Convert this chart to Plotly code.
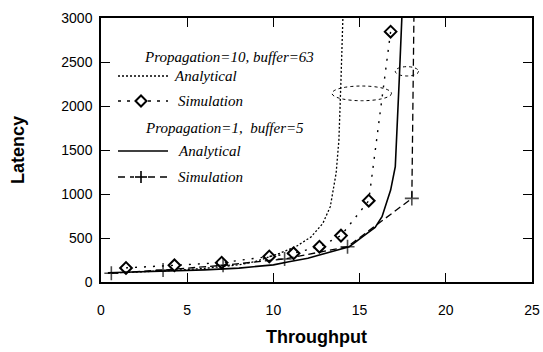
import plotly.graph_objects as go

# ---------------- data ----------------
# Propagation=10, buffer=63 : analytical
a10_x = [0.4, 2, 4, 6, 8, 9, 10.36, 11.3, 12.2, 12.87, 13.3, 13.64, 13.8, 13.92, 14.03]
a10_y = [100, 112, 130, 155, 195, 235, 326, 401, 515, 667, 856, 1239, 1614, 2300, 3000]
# Propagation=10, buffer=63 : simulation
s10_x = [1.45, 4.26, 7.0, 9.76, 11.17, 12.67, 13.92, 15.53, 16.8]
s10_y = [160, 190, 220, 290, 326, 401, 527, 924, 2845]
# Propagation=1, buffer=5 : analytical
a1_x = [0.4, 2, 4, 6, 8, 10, 10.9, 12, 12.67, 13.5, 14.4, 15.18, 15.9, 16.3, 16.8, 17.07, 17.15, 17.3, 17.45]
a1_y = [105, 113, 125, 138, 158, 195, 231, 270, 307, 350, 401, 515, 620, 742, 1045, 1310, 1614, 2300, 3000]
# Propagation=1, buffer=5 : simulation
s1_x = [0.6, 3.6, 7.08, 10.65, 14.3, 18.03, 18.15]
s1_y = [100, 136, 190, 262, 401, 950, 3000]
s1_marker = [10, 10, 10, 10, 10, 10, 0]

# highlighted regions (ellipses): x0, x1, y0, y1
ell_x0 = [13.4, 17.07]
ell_x1 = [16.85, 18.42]
ell_y0 = [2060, 2341]
ell_y1 = [2227, 2447]

x_ticks = [0, 5, 10, 15, 20, 25]
y_ticks = [0, 500, 1000, 1500, 2000, 2500, 3000]

title_10 = "Propagation=10, buffer=63"
title_1 = "Propagation=1,  buffer=5"
lbl_an = "Analytical"
lbl_sim = "Simulation"

# ---------------- layout geometry ----------------
W, H = 543, 352
L, R, T, B = 101, 11, 18, 70
PW, PH = W - L - R, H - T - B


def fx(px):
    return (px - L) / PW


def fy(py):
    return (H - B - py) / PH


fig = go.Figure()

fig.add_trace(go.Scatter(x=a10_x, y=a10_y, mode="lines",
                         line=dict(color="black", width=1.3, dash="2px,2px"),
                         showlegend=False))
fig.add_trace(go.Scatter(x=s10_x, y=s10_y, mode="lines+markers",
                         line=dict(color="black", width=1.4, dash="2px,7px"),
                         marker=dict(symbol="diamond-open", size=9, color="black",
                                     line=dict(width=2, color="black")),
                         showlegend=False))
fig.add_trace(go.Scatter(x=a1_x, y=a1_y, mode="lines",
                         line=dict(color="black", width=1.6),
                         showlegend=False))
fig.add_trace(go.Scatter(x=s1_x, y=s1_y, mode="lines+markers",
                         line=dict(color="black", width=1.3, dash="7px,4px"),
                         marker=dict(symbol="cross-thin-open", size=s1_marker, color="black",
                                     line=dict(width=1.6, color="black")),
                         showlegend=False))

for x0, x1, y0, y1 in zip(ell_x0, ell_x1, ell_y0, ell_y1):
    fig.add_shape(type="circle", xref="x", yref="y", x0=x0, x1=x1, y0=y0, y1=y1,
                  line=dict(color="black", width=1, dash="dot"))

# ---------------- hand-made legend (shapes + annotations) ----------------
sx0, sx1, sxm = 118, 168, 141
legend_rows = [
    (76, dict(color="black", width=1.3, dash="2px,2px"), None),
    (101, dict(color="black", width=1.4, dash="3px,6px"), "diamond"),
    (151, dict(color="black", width=1.6), None),
    (177, dict(color="black", width=1.3, dash="7px,5px"), "plus"),
]
for py, ln, sym in legend_rows:
    if sym is None:
        fig.add_shape(type="line", xref="paper", yref="paper",
                      x0=fx(sx0), x1=fx(sx1), y0=fy(py), y1=fy(py), line=ln)
    else:
        gap = 7
        fig.add_shape(type="line", xref="paper", yref="paper",
                      x0=fx(sx0), x1=fx(sxm - gap), y0=fy(py), y1=fy(py), line=ln)
        fig.add_shape(type="line", xref="paper", yref="paper",
                      x0=fx(sxm + gap), x1=fx(sx1), y0=fy(py), y1=fy(py), line=ln)
        if sym == "diamond":
            d = 5.5
            path = "M {} {} L {} {} L {} {} L {} {} Z".format(
                fx(sxm - d), fy(py), fx(sxm), fy(py - d), fx(sxm + d), fy(py), fx(sxm), fy(py + d))
            fig.add_shape(type="path", xref="paper", yref="paper", path=path,
                          line=dict(color="black", width=2))
        else:
            d = 6
            fig.add_shape(type="line", xref="paper", yref="paper",
                          x0=fx(sxm - d), x1=fx(sxm + d), y0=fy(py), y1=fy(py),
                          line=dict(color="black", width=1.6))
            fig.add_shape(type="line", xref="paper", yref="paper",
                          x0=fx(sxm), x1=fx(sxm), y0=fy(py - d), y1=fy(py + d),
                          line=dict(color="black", width=1.6))

lg_font = dict(family="Liberation Serif", size=15, color="black", style="italic")
texts = [
    (143, 57, title_10),
    (173, 76, lbl_an),
    (177, 101, lbl_sim),
    (144, 128, title_1),
    (177, 151, lbl_an),
    (177, 177, lbl_sim),
]
for px, py, tx in texts:
    fig.add_annotation(x=fx(px), y=fy(py), xref="paper", yref="paper", text=tx,
                       showarrow=False, xanchor="left", yanchor="middle", font=lg_font,
                       borderpad=0)

axis_common = dict(showline=True, linecolor="black", linewidth=1.5, mirror="ticks",
                   ticks="inside", ticklen=9, tickwidth=1.3, tickcolor="black",
                   showgrid=False, zeroline=False, automargin=False,
                   tickfont=dict(family="Liberation Sans", size=14, color="black"))

fig.update_layout(
    width=W, height=H,
    margin=dict(l=L, r=R, t=T, b=B),
    paper_bgcolor="white", plot_bgcolor="white",
    xaxis=dict(range=[0, 25], tickvals=x_ticks, ticktext=[str(v) for v in x_ticks],
               ticklabelstandoff=14,
               title=dict(text="<b>Throughput</b>", standoff=14,
                          font=dict(family="Liberation Sans", size=18, color="black")),
               **axis_common),
    yaxis=dict(range=[0, 3000], tickvals=y_ticks, ticktext=[str(v) for v in y_ticks],
               ticklabelstandoff=4,
               title=dict(text="<b>Latency</b>", standoff=32,
                          font=dict(family="Liberation Sans", size=18, color="black")),
               **axis_common),
)

fig.write_html("out.html", config={"displayModeBar": False},
               post_script="document.body.style.margin='0';")
